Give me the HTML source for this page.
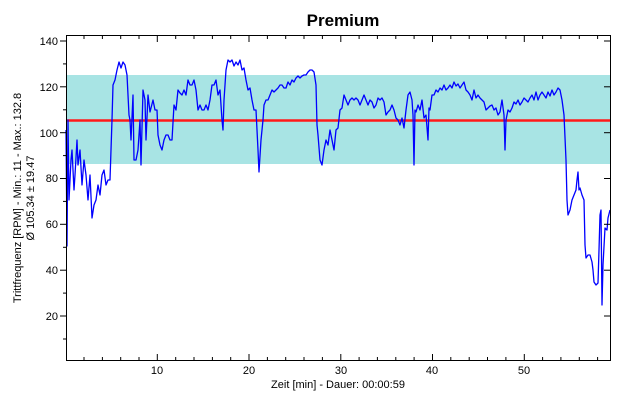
<!DOCTYPE html>
<html><head><meta charset="utf-8"><style>
html,body{margin:0;padding:0;background:#fff;}
svg{display:block;font-family:"Liberation Sans",Arial,sans-serif;}
</style></head><body>
<svg width="620" height="400" xmlns="http://www.w3.org/2000/svg">
<rect x="0" y="0" width="620" height="400" fill="#fff"/>
<text x="343" y="26" font-size="17" font-weight="bold" text-anchor="middle">Premium</text>
<rect x="66" y="75" width="544" height="89" fill="#a8e4e4"/>
<line x1="66" y1="120.5" x2="610" y2="120.5" stroke="#ff1a1a" stroke-width="2.5"/>
<polyline fill="none" stroke="#0000ff" stroke-width="1.3" stroke-linejoin="round" points="66,130 67,246 68,120 69,200 71,160 72,150 74,190 75,175 77,140 78,165 80,150 82,185 84,160 86,175 88,200 90,175 92,218 94,205 96,200 98,185 100,195 102,175 104,170 106,185 108,180 110,180 112,120 113,85 115,80 117,70 119,62 121,68 123,62 125,65 127,75 129,115 130,120 131,140 133,95 134,160 136,160 138,150 140,120 141,165 143,90 145,100 146,140 148,95 150,112 151,108 153,100 155,110 157,110 158,135 160,145 162,150 164,140 166,135 168,135 170,140 172,140 174,105 176,110 178,90 180,93 182,95 184,90 186,95 188,80 190,85 192,85 194,80 196,90 198,110 200,105 202,110 204,110 206,105 208,110 210,100 212,85 214,85 216,80 218,95 220,90 222,120 223,130 224,100 226,70 228,60 230,62 232,60 234,66 236,62 238,65 240,60 242,70 244,68 246,80 248,90 250,88 252,100 254,110 256,110 258,150 259,172 261,140 263,120 264,105 266,100 268,100 270,95 272,90 274,92 276,90 278,88 280,85 282,85 284,88 286,88 288,82 290,85 292,80 294,82 296,78 298,76 300,78 302,76 304,75 306,75 308,72 310,70 312,70 314,72 316,85 317,125 318,135 320,160 322,165 324,150 326,140 328,145 330,130 332,140 334,150 336,130 338,128 340,110 342,108 344,95 346,100 348,105 350,100 352,98 354,100 356,98 358,100 360,105 362,100 364,95 366,100 368,105 370,100 372,102 374,108 376,105 378,98 380,100 382,98 384,102 386,115 388,112 390,110 392,105 394,110 396,118 398,120 400,125 402,118 404,128 406,110 408,95 410,92 412,100 413,115 414,165 415,110 416,112 418,105 420,110 422,100 424,118 426,115 428,140 429,108 430,110 432,95 434,95 436,90 438,92 440,88 442,90 444,85 446,90 448,88 450,85 452,88 454,82 456,86 458,84 460,88 462,85 464,82 466,90 468,92 470,95 472,100 474,90 476,98 478,95 480,98 482,100 484,102 486,110 488,108 490,106 492,105 494,110 496,108 498,115 500,112 502,100 504,115 505,150 506,120 508,110 510,112 512,108 514,102 516,104 518,100 520,105 522,102 524,98 526,100 528,102 530,98 532,95 534,100 536,92 538,100 540,95 542,92 544,95 546,98 548,92 550,96 552,90 554,95 556,92 558,88 560,90 562,100 564,115 566,160 567,200 568,215 570,210 572,200 574,195 576,190 577,180 578,172 579,190 580,188 582,195 584,200 585,245 586,258 588,255 590,255 592,262 593,270 594,282 596,285 598,283 599,250 600,215 601,210 602,305 603,265 605,228 607,230 608,218 610,210"/>
<rect x="66.5" y="35.5" width="544" height="325" fill="none" stroke="#000" stroke-width="1"/>
<g stroke="#000" stroke-width="1">
<!-- y ticks -->
<line x1="60" y1="41" x2="66" y2="41"/><line x1="60" y1="86.8" x2="66" y2="86.8"/><line x1="60" y1="132.7" x2="66" y2="132.7"/><line x1="60" y1="178.5" x2="66" y2="178.5"/><line x1="60" y1="224.3" x2="66" y2="224.3"/><line x1="60" y1="270.2" x2="66" y2="270.2"/><line x1="60" y1="316" x2="66" y2="316"/>
<line x1="63" y1="63.9" x2="66" y2="63.9"/><line x1="63" y1="109.8" x2="66" y2="109.8"/><line x1="63" y1="155.6" x2="66" y2="155.6"/><line x1="63" y1="201.4" x2="66" y2="201.4"/><line x1="63" y1="247.3" x2="66" y2="247.3"/><line x1="63" y1="293.1" x2="66" y2="293.1"/><line x1="63" y1="339" x2="66" y2="339"/>
<line x1="604" y1="41" x2="610" y2="41"/><line x1="604" y1="86.8" x2="610" y2="86.8"/><line x1="604" y1="132.7" x2="610" y2="132.7"/><line x1="604" y1="178.5" x2="610" y2="178.5"/><line x1="604" y1="224.3" x2="610" y2="224.3"/><line x1="604" y1="270.2" x2="610" y2="270.2"/><line x1="604" y1="316" x2="610" y2="316"/>
<!-- x ticks -->
<line x1="157.3" y1="354" x2="157.3" y2="360"/><line x1="249" y1="354" x2="249" y2="360"/><line x1="340.8" y1="354" x2="340.8" y2="360"/><line x1="432.5" y1="354" x2="432.5" y2="360"/><line x1="524.3" y1="354" x2="524.3" y2="360"/>
<line x1="157.3" y1="36" x2="157.3" y2="42"/><line x1="249" y1="36" x2="249" y2="42"/><line x1="340.8" y1="36" x2="340.8" y2="42"/><line x1="432.5" y1="36" x2="432.5" y2="42"/><line x1="524.3" y1="36" x2="524.3" y2="42"/>
</g>
<g stroke="#000" stroke-width="1" id="minor">
<path d="M84 357V360M102.4 357V360M120.7 357V360M139 357V360M175.7 357V360M194 357V360M212.4 357V360M230.7 357V360M267.4 357V360M285.7 357V360M304 357V360M322.4 357V360M359.1 357V360M377.4 357V360M395.8 357V360M414.1 357V360M450.8 357V360M469.2 357V360M487.5 357V360M505.9 357V360M542.6 357V360M560.9 357V360M579.3 357V360M597.6 357V360"/>
<path d="M84 36V39M102.4 36V39M120.7 36V39M139 36V39M175.7 36V39M194 36V39M212.4 36V39M230.7 36V39M267.4 36V39M285.7 36V39M304 36V39M322.4 36V39M359.1 36V39M377.4 36V39M395.8 36V39M414.1 36V39M450.8 36V39M469.2 36V39M487.5 36V39M505.9 36V39M542.6 36V39M560.9 36V39M579.3 36V39M597.6 36V39"/>
</g>
<g font-size="11" text-anchor="end">
<text x="58" y="45">140</text><text x="58" y="91">120</text><text x="58" y="137">100</text><text x="58" y="182">80</text><text x="58" y="228">60</text><text x="58" y="274">40</text><text x="58" y="320">20</text>
</g>
<g font-size="11" text-anchor="middle">
<text x="157" y="374">10</text><text x="249" y="374">20</text><text x="341" y="374">30</text><text x="432" y="374">40</text><text x="524" y="374">50</text>
<text x="338" y="388">Zeit [min] - Dauer: 00:00:59</text>
</g>
<g font-size="11" text-anchor="middle">
<text transform="translate(21,198) rotate(-90)">Trittfrequenz [RPM] - Min.: 11 - Max.: 132.8</text>
<text transform="translate(34,198) rotate(-90)">Ø 105.34 ± 19.47</text>
</g>
</svg>
</body></html>
